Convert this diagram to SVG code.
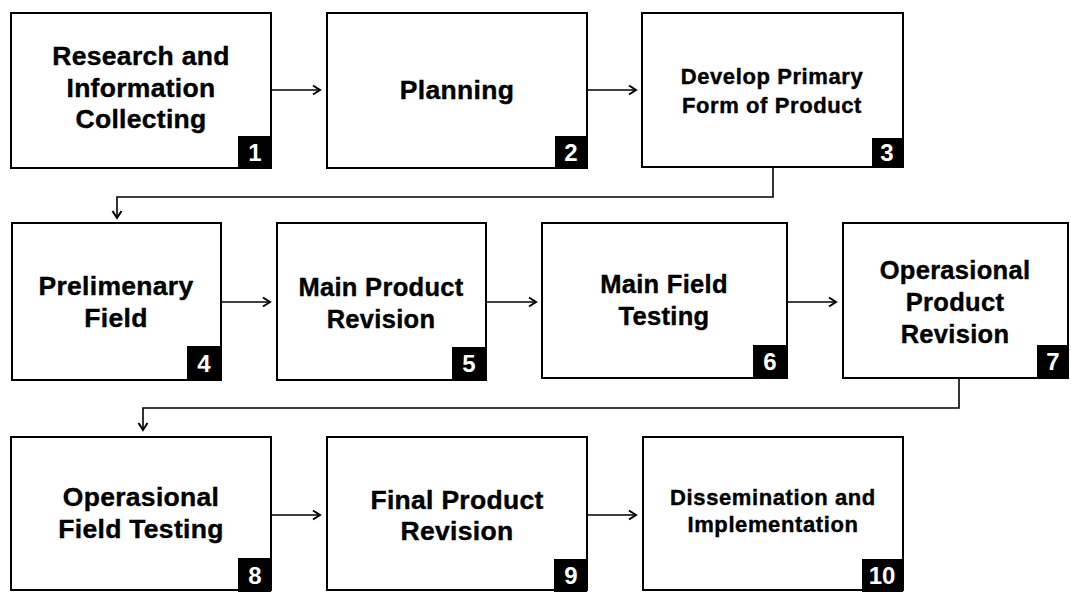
<svg xmlns="http://www.w3.org/2000/svg" width="1071" height="592" viewBox="0 0 1071 592">
<style>
.box{fill:#fff;stroke:#000;stroke-width:2}
.badge{fill:#000}
.t{font-family:"Liberation Sans",Arial,sans-serif;font-weight:bold;fill:#000;stroke:#000;stroke-width:0.4;text-anchor:middle}
.t25{font-size:26.5px;letter-spacing:0.3px}
.t24{font-size:25.5px;letter-spacing:0.3px}
.t21{font-size:22px;letter-spacing:0.6px}
.n{font-family:"Liberation Sans",Arial,sans-serif;font-weight:bold;font-size:24px;fill:#fff;text-anchor:middle}
.c{fill:none;stroke:#000;stroke-width:1.6}
</style>
<defs>
<marker id="arr" markerUnits="userSpaceOnUse" markerWidth="12" markerHeight="12" viewBox="-9 -6 10 12" refX="0" refY="0" orient="auto">
<path d="M-7,-4.5 L0,0 L-7,4.5" fill="none" stroke="#000" stroke-width="2"/>
</marker>
</defs>
<rect width="1071" height="592" fill="#fff"/>
<g id="connectors">
<path class="c" d="M271,90 H320" marker-end="url(#arr)"/>
<path class="c" d="M587,90 H636" marker-end="url(#arr)"/>
<path class="c" d="M773,167 V197 H117 V218" marker-end="url(#arr)"/>
<path class="c" d="M221,302 H270" marker-end="url(#arr)"/>
<path class="c" d="M486,302 H536" marker-end="url(#arr)"/>
<path class="c" d="M787,302 H836" marker-end="url(#arr)"/>
<path class="c" d="M959,378 V408 H143 V430" marker-end="url(#arr)"/>
<path class="c" d="M271,515 H320" marker-end="url(#arr)"/>
<path class="c" d="M587,515 H636" marker-end="url(#arr)"/>
</g>
<g id="node1">
<rect class="box" x="11" y="13" width="260" height="155"/>
<rect class="badge" x="238" y="136" width="33" height="32"/>
<text class="n" x="255" y="161">1</text>
<text class="t t25" x="141" y="65">Research and</text>
<text class="t t25" x="141" y="97">Information</text>
<text class="t t25" x="141" y="128">Collecting</text>
</g>
<g id="node2">
<rect class="box" x="327" y="13" width="260" height="155"/>
<rect class="badge" x="555" y="136" width="32" height="32"/>
<text class="n" x="571" y="161">2</text>
<text class="t t25" x="457" y="99">Planning</text>
</g>
<g id="node3">
<rect class="box" x="642" y="13" width="261" height="154"/>
<rect class="badge" x="872" y="138" width="31" height="29"/>
<text class="n" x="887" y="161">3</text>
<text class="t t21" x="772" y="84">Develop Primary</text>
<text class="t t21" x="772" y="113">Form of Product</text>
</g>
<g id="node4">
<rect class="box" x="12" y="223" width="209" height="157"/>
<rect class="badge" x="187" y="346" width="34" height="34"/>
<text class="n" x="204" y="372">4</text>
<text class="t t25" x="116" y="295">Prelimenary</text>
<text class="t t25" x="116" y="327">Field</text>
</g>
<g id="node5">
<rect class="box" x="277" y="223" width="209" height="157"/>
<rect class="badge" x="452" y="347" width="34" height="33"/>
<text class="n" x="469" y="372">5</text>
<text class="t t24" x="381" y="296">Main Product</text>
<text class="t t24" x="381" y="328">Revision</text>
</g>
<g id="node6">
<rect class="box" x="542" y="223" width="245" height="155"/>
<rect class="badge" x="753" y="345" width="34" height="33"/>
<text class="n" x="770" y="370">6</text>
<text class="t t24" x="664" y="293">Main Field</text>
<text class="t t24" x="664" y="325">Testing</text>
</g>
<g id="node7">
<rect class="box" x="843" y="223" width="225" height="155"/>
<rect class="badge" x="1037" y="345" width="31" height="33"/>
<text class="n" x="1053" y="370">7</text>
<text class="t t24" x="955" y="279">Operasional</text>
<text class="t t24" x="955" y="311">Product</text>
<text class="t t24" x="955" y="343">Revision</text>
</g>
<g id="node8">
<rect class="box" x="11" y="437" width="260" height="153"/>
<rect class="badge" x="238" y="558" width="33" height="34"/>
<text class="n" x="255" y="584">8</text>
<text class="t t25" x="141" y="506">Operasional</text>
<text class="t t25" x="141" y="538">Field Testing</text>
</g>
<g id="node9">
<rect class="box" x="327" y="437" width="260" height="153"/>
<rect class="badge" x="554" y="559" width="33" height="33"/>
<text class="n" x="571" y="584">9</text>
<text class="t t25" x="457" y="509">Final Product</text>
<text class="t t25" x="457" y="540">Revision</text>
</g>
<g id="node10">
<rect class="box" x="643" y="437" width="260" height="153"/>
<rect class="badge" x="862" y="559" width="41" height="33"/>
<text class="n" x="882" y="584">10</text>
<text class="t t21" x="773" y="505">Dissemination and</text>
<text class="t t21" x="773" y="532">Implementation</text>
</g>
</svg>
